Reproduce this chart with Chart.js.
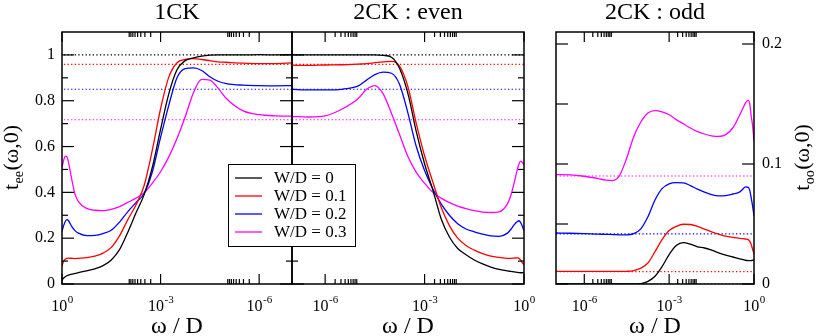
<!DOCTYPE html>
<html>
<head>
<meta charset="utf-8">
<script src="https://cdn.jsdelivr.net/npm/chart.js@4.4.1/dist/chart.umd.min.js"></script>
<style>
  html, body { margin: 0; padding: 0; background: #fff; }
  #wrap { position: relative; width: 817px; height: 336px; }
  #wrap canvas { position: absolute; left: 0; top: 0; }
</style>
</head>
<body>
<div id="wrap">
  <canvas id="p1" width="817" height="336"></canvas>
  <canvas id="p2" width="817" height="336"></canvas>
  <canvas id="p3" width="817" height="336"></canvas>
</div>
<script>
// log10(omega/D) grids
const logW_ee = [0, -0.05, -0.1, -0.15, -0.2, -0.3, -0.4, -0.5, -0.75, -1, -1.25, -1.5, -1.75, -2, -2.25,
  -2.5, -2.75, -3, -3.25, -3.5, -3.75, -4, -4.25, -4.5, -4.75, -5, -5.5, -6, -6.5, -7];
const logW_oo = [0, -0.05, -0.1, -0.15, -0.2, -0.3, -0.4, -0.5, -0.75, -1, -1.25, -1.5, -1.75, -2, -2.25,
  -2.5, -2.75, -3, -3.25, -3.5, -3.75, -4, -4.25, -4.5, -4.75, -5, -5.25, -5.5, -6, -6.5, -7];

const wdLabels = ['W/D = 0', 'W/D = 0.1', 'W/D = 0.2', 'W/D = 0.3'];
const colors = ['#000000', '#ff0000', '#0000ff', '#ff00ff'];

// 1CK : t_ee
const ck1_w0 = [0.017, 0.026, 0.032, 0.036, 0.039, 0.043, 0.046, 0.05, 0.057, 0.066, 0.08, 0.105, 0.15, 0.225, 0.31,
  0.39, 0.51, 0.675, 0.83, 0.935, 0.975, 0.987, 0.995, 0.999, 1.0, 1.0, 1.0, 1.001, 1.0, 1.001];
const ck1_w1 = [0.08, 0.1, 0.108, 0.112, 0.113, 0.112, 0.111, 0.112, 0.115, 0.122, 0.135, 0.16, 0.21, 0.28, 0.345,
  0.43, 0.585, 0.765, 0.903, 0.966, 0.98, 0.984, 0.98, 0.975, 0.97, 0.968, 0.964, 0.962, 0.962, 0.965];
const ck1_w2 = [0.23, 0.255, 0.273, 0.281, 0.276, 0.25, 0.232, 0.222, 0.211, 0.212, 0.22, 0.235, 0.27, 0.315, 0.355,
  0.395, 0.49, 0.64, 0.78, 0.9, 0.94, 0.943, 0.932, 0.905, 0.885, 0.875, 0.868, 0.866, 0.865, 0.866];
const ck1_w3 = [0.51, 0.54, 0.558, 0.555, 0.53, 0.455, 0.39, 0.36, 0.33, 0.322, 0.32, 0.326, 0.338, 0.356, 0.375,
  0.398, 0.44, 0.49, 0.555, 0.635, 0.73, 0.835, 0.893, 0.89, 0.855, 0.81, 0.757, 0.739, 0.734, 0.733];

// 2CK even : t_ee
const ck2e_w0 = [0.05, 0.049, 0.049, 0.05, 0.051, 0.053, 0.055, 0.057, 0.064, 0.074, 0.088, 0.105, 0.128, 0.155, 0.205,
  0.285, 0.41, 0.525, 0.665, 0.83, 0.94, 0.99, 0.998, 1.0, 1.0, 1.0, 1.0, 1.0, 1.0, 1.0];
const ck2e_w1 = [0.083, 0.093, 0.104, 0.112, 0.114, 0.113, 0.112, 0.112, 0.116, 0.122, 0.133, 0.148, 0.168, 0.2, 0.255,
  0.335, 0.445, 0.56, 0.7, 0.86, 0.95, 0.972, 0.97, 0.966, 0.962, 0.96, 0.957, 0.956, 0.954, 0.955];
const ck2e_w2 = [0.232, 0.252, 0.268, 0.276, 0.273, 0.258, 0.238, 0.222, 0.208, 0.21, 0.218, 0.228, 0.24, 0.263, 0.3,
  0.35, 0.415, 0.495, 0.6, 0.745, 0.87, 0.92, 0.925, 0.914, 0.89, 0.865, 0.85, 0.847, 0.847, 0.85];
const ck2e_w3 = [0.52, 0.53, 0.536, 0.525, 0.5, 0.44, 0.385, 0.35, 0.315, 0.312, 0.314, 0.32, 0.329, 0.34, 0.355,
  0.375, 0.4, 0.44, 0.487, 0.555, 0.65, 0.745, 0.83, 0.866, 0.85, 0.81, 0.763, 0.734, 0.729, 0.731];

// 2CK odd : t_oo
const ck2o_w0 = [0.02, 0.0198, 0.0195, 0.0194, 0.0195, 0.0198, 0.0203, 0.021, 0.0225, 0.024, 0.026, 0.0282, 0.03, 0.031,
  0.0332, 0.0345, 0.032, 0.0245, 0.0145, 0.0065, 0.0022, 0.0004, 0, 0, 0, 0, 0, 0, 0, 0, 0];
const ck2o_w1 = [0.025, 0.029, 0.033, 0.0355, 0.037, 0.0375, 0.0378, 0.038, 0.0388, 0.0398, 0.0415, 0.0435, 0.0458, 0.048,
  0.0496, 0.0498, 0.048, 0.0445, 0.037, 0.027, 0.0175, 0.0132, 0.0112, 0.0106, 0.0105, 0.0105, 0.0105, 0.0105, 0.0105, 0.0105, 0.0105];
const ck2o_w2 = [0.057, 0.065, 0.072, 0.078, 0.0805, 0.081, 0.079, 0.0768, 0.075, 0.0737, 0.0735, 0.0745, 0.0765, 0.079,
  0.082, 0.0843, 0.0845, 0.0835, 0.0795, 0.07, 0.056, 0.046, 0.042, 0.041, 0.041, 0.0412, 0.0414, 0.0415, 0.042, 0.0423, 0.0425];
const ck2o_w3 = [0.119, 0.132, 0.14, 0.15, 0.153, 0.151, 0.146, 0.141, 0.13, 0.1245, 0.123, 0.1235, 0.125, 0.127,
  0.13, 0.1335, 0.137, 0.141, 0.1435, 0.1445, 0.1425, 0.135, 0.123, 0.105, 0.0905, 0.0862, 0.0866, 0.0878, 0.0898, 0.091, 0.0912];

// dotted asymptotic levels
const refEE = [1.0, 0.959, 0.85, 0.717];
const refOO = [0, 0.0103, 0.0417, 0.09];

// ticks
const tickExp = [0, -3, -6];
const yTicksEE = [0, 0.2, 0.4, 0.6, 0.8, 1];
const yMinorEE = [0.1, 0.3, 0.5, 0.7, 0.9];
const yTicksOO = [0, 0.1, 0.2];
const yMinorOO = [0.05, 0.15];

const FONT = '"Liberation Serif", "Times New Roman", serif';

function line(ctx, x1, y1, x2, y2) {
  ctx.beginPath();
  ctx.moveTo(x1, y1);
  ctx.lineTo(x2, y2);
  ctx.stroke();
}

function drawExpLabel(ctx, x, y, exp) {
  const sup = exp === 0 ? '0' : '-' + (-exp);
  ctx.font = '16px ' + FONT;
  const wb = ctx.measureText('10').width;
  ctx.font = '11px ' + FONT;
  const ws = ctx.measureText(sup).width;
  const x0 = x - (wb + ws) / 2;
  ctx.textAlign = 'left';
  ctx.textBaseline = 'alphabetic';
  ctx.font = '16px ' + FONT;
  ctx.fillText('10', x0, y);
  ctx.font = '11px ' + FONT;
  ctx.fillText(sup, x0 + wb + 0.5, y - 8);
}

function drawYTitle(ctx, bx, cy, sub) {
  ctx.save();
  ctx.translate(bx, cy);
  ctx.rotate(-Math.PI / 2);
  ctx.textAlign = 'left';
  ctx.textBaseline = 'alphabetic';
  ctx.font = '22px ' + FONT;
  const wt = ctx.measureText('t').width;
  const wr = ctx.measureText('(ω,0)').width;
  ctx.font = '14px ' + FONT;
  const wsub = ctx.measureText(sub).width;
  const x0 = -(wt + wsub + wr) / 2;
  ctx.font = '22px ' + FONT;
  ctx.fillText('t', x0, 0);
  ctx.fillText('(ω,0)', x0 + wt + wsub + 1, 0);
  ctx.font = '14px ' + FONT;
  ctx.fillText(sub, x0 + wt + 0.5, 5);
  ctx.restore();
}

const panelDecor = {
  id: 'panelDecor',
  afterDraw(chart, args, o) {
    const ctx = chart.ctx;
    const a = chart.chartArea;
    const xs = chart.scales.x, ys = chart.scales.y;
    ctx.save();
    ctx.strokeStyle = '#000';
    ctx.fillStyle = '#000';
    ctx.lineWidth = 1.2;

    // x ticks, inward on bottom and top
    tickExp.forEach((e) => {
      const px = xs.getPixelForValue(e);
      line(ctx, px, a.bottom, px, a.bottom - 10);
      line(ctx, px, a.top, px, a.top + 10);
      for (let m = 2; m <= 9; m++) {
        const v = e + Math.log10(m);
        if (v > 0) continue;
        const pm = xs.getPixelForValue(v);
        line(ctx, pm, a.bottom, pm, a.bottom - 5);
        line(ctx, pm, a.top, pm, a.top + 5);
      }
      drawExpLabel(ctx, px, 311, e);
    });

    // y ticks
    o.yMajor.forEach((v) => {
      const py = ys.getPixelForValue(v);
      if (o.leftTicks) line(ctx, a.left, py, a.left + 12, py);
      if (o.rightTicks) line(ctx, a.right, py, a.right - 12, py);
    });
    o.yMinor.forEach((v) => {
      const py = ys.getPixelForValue(v);
      if (o.leftTicks) line(ctx, a.left, py, a.left + o.minorLen, py);
      if (o.rightTicks && o.rightMinor) line(ctx, a.right, py, a.right - o.minorLen, py);
    });

    // y tick labels
    ctx.font = '16px ' + FONT;
    ctx.textBaseline = 'middle';
    if (o.yLabels === 'left') {
      ctx.textAlign = 'right';
      o.yMajor.forEach((v) => ctx.fillText(String(v), a.left - 7, ys.getPixelForValue(v)));
    } else if (o.yLabels === 'right') {
      ctx.textAlign = 'left';
      o.yMajor.forEach((v) => ctx.fillText(String(v), a.right + 8, ys.getPixelForValue(v)));
    }

    // frame
    ctx.lineWidth = 1.5;
    ctx.strokeRect(a.left, a.top, a.right - a.left, a.bottom - a.top);

    // titles
    const cx = (a.left + a.right) / 2;
    ctx.textAlign = 'center';
    ctx.textBaseline = 'alphabetic';
    ctx.font = '24px ' + FONT;
    ctx.fillText(o.title, cx, 19);
    ctx.fillText('ω / D', cx, 333);

    if (o.yTitle) drawYTitle(ctx, o.yTitle.x, (a.top + a.bottom) / 2, o.yTitle.sub);

    // legend box
    if (o.legend) {
      const L = o.legend;
      ctx.fillStyle = '#fff';
      ctx.fillRect(L.x, L.y, L.w, L.h);
      ctx.strokeStyle = '#000';
      ctx.lineWidth = 1;
      ctx.strokeRect(L.x + 0.5, L.y + 0.5, L.w, L.h);
      const items = chart.data.datasets.filter((d) => !d.isRef);
      ctx.font = '17px ' + FONT;
      ctx.textAlign = 'left';
      ctx.textBaseline = 'middle';
      items.forEach((d, i) => {
        const yy = L.y + 14 + i * 18;
        ctx.strokeStyle = d.borderColor;
        ctx.lineWidth = 1.3;
        line(ctx, L.x + 7, yy, L.x + 34, yy);
        ctx.fillStyle = '#000';
        ctx.fillText(d.label, L.x + 46, yy + 1);
      });
    }
    ctx.restore();
  }
};

function buildDatasets(xs, series, refs) {
  const sets = series.map((vals, i) => ({
    label: wdLabels[i],
    data: xs.map((x, j) => ({ x: x, y: vals[j] })),
    borderColor: colors[i],
    borderWidth: 1.3,
    pointRadius: 0,
    fill: false,
    cubicInterpolationMode: 'monotone',
    order: 0
  }));
  refs.forEach((lvl, i) => {
    sets.push({
      label: '',
      isRef: true,
      data: [{ x: -7, y: lvl }, { x: 0, y: lvl }],
      borderColor: colors[i],
      borderWidth: 1.2,
      borderDash: [1.3, 2.3],
      pointRadius: 0,
      fill: false,
      order: 5
    });
  });
  return sets;
}

function makePanel(id, area, xs, series, refs, yMax, reverse, decor) {
  return new Chart(document.getElementById(id), {
    type: 'line',
    data: { datasets: buildDatasets(xs, series, refs) },
    options: {
      responsive: false,
      animation: false,
      devicePixelRatio: 1,
      layout: {
        padding: { left: area[0], right: 817 - area[1], top: area[2], bottom: 336 - area[3] }
      },
      scales: {
        x: { type: 'linear', min: -7, max: 0, reverse: reverse, display: false },
        y: { type: 'linear', min: 0, max: yMax, display: false }
      },
      plugins: {
        legend: { display: false },
        tooltip: { enabled: false },
        panelDecor: decor
      }
    },
    plugins: [panelDecor]
  });
}

makePanel('p1', [62, 292, 32, 284], logW_ee, [ck1_w0, ck1_w1, ck1_w2, ck1_w3], refEE, 1.1, true, {
  title: '1CK', yMajor: yTicksEE, yMinor: yMinorEE, minorLen: 6,
  leftTicks: true, rightTicks: true, rightMinor: true, yLabels: 'left',
  yTitle: { x: 18, sub: 'ee' }
});

makePanel('p2', [292, 524, 32, 284], logW_ee, [ck2e_w0, ck2e_w1, ck2e_w2, ck2e_w3], refEE, 1.1, false, {
  title: '2CK : even', yMajor: yTicksEE, yMinor: yMinorEE, minorLen: 6,
  leftTicks: true, rightTicks: true, rightMinor: true, yLabels: null,
  legend: { x: 228, y: 164, w: 127, h: 82 }
});

makePanel('p3', [556, 754, 32, 284], logW_oo, [ck2o_w0, ck2o_w1, ck2o_w2, ck2o_w3], refOO, 0.21, false, {
  title: '2CK : odd', yMajor: yTicksOO, yMinor: yMinorOO, minorLen: 12,
  leftTicks: true, rightTicks: true, rightMinor: false, yLabels: 'right',
  yTitle: { x: 809, sub: 'oo' }
});
</script>
</body>
</html>
